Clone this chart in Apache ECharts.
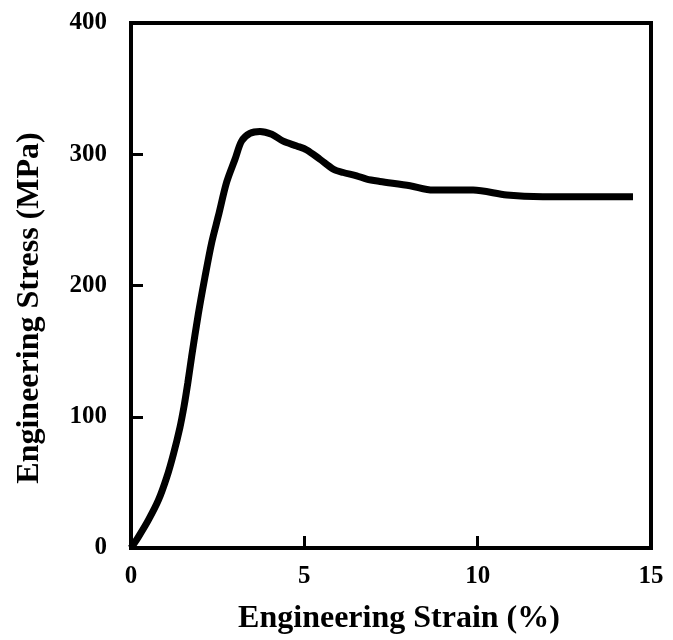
<!DOCTYPE html>
<html>
<head>
<meta charset="utf-8">
<script src="https://cdn.jsdelivr.net/npm/echarts@6/dist/echarts.min.js"></script>
<style>
html,body{margin:0;padding:0;background:#fff;}
#chart{width:673px;height:640px;}
</style>
</head>
<body>
<div id="chart"></div>
<script>
var strain = [0, 0.21, 0.50, 0.79, 1.03, 1.22, 1.41, 1.53, 1.64, 1.75, 1.94, 2.13, 2.33, 2.52, 2.76, 3.00, 3.19, 3.43, 3.72, 4.06, 4.39, 4.78, 5.07, 5.45, 5.84, 6.12, 6.51, 6.80, 7.18, 8.05, 8.71, 9.87, 10.84, 11.88, 13.33, 14.48];
var stress = [0, 8.3, 21.2, 36.4, 53.8, 71.2, 91.7, 108, 126, 146, 178, 206, 233, 253, 278.8, 296.2, 310, 315.9, 317.4, 315.2, 310, 306.3, 303.3, 296.2, 288.6, 286.1, 283.6, 281, 279.3, 276, 272.7, 272.7, 268.9, 267.7, 267.7, 267.7];
var xTicks = [0, 5, 10, 15];
var yTicks = [0, 100, 200, 300, 400];
var xTitle = 'Engineering Strain (%)';
var yTitle = 'Engineering Stress (MPa)';

var data = strain.map(function(x, i){ return [x, stress[i]]; });
var font = '"Liberation Serif", "Times New Roman", serif';
var chart = echarts.init(document.getElementById('chart'), null, {renderer: 'canvas'});
chart.setOption({
  animation: false,
  backgroundColor: '#fff',
  grid: {left: 131, right: 22, top: 23, bottom: 89, show: true, borderColor: '#000', borderWidth: 4, backgroundColor: 'transparent'},
  graphic: [{
    type: 'text', x: 30, y: 308, rotation: Math.PI / 2,
    style: {text: yTitle, fontFamily: font, fontWeight: 'bold', fontSize: 32, fill: '#000', align: 'center', verticalAlign: 'middle'}
  }],
  xAxis: {
    type: 'value', min: xTicks[0], max: xTicks[xTicks.length-1], interval: 5,
    name: xTitle, nameLocation: 'middle', nameGap: 55,
    nameTextStyle: {fontFamily: font, fontWeight: 'bold', fontSize: 32, color: '#000', padding: [0, 0, 0, 16]},
    axisLine: {show: true, lineStyle: {color: '#000', width: 4}},
    axisTick: {show: true, inside: true, length: 12, lineStyle: {color: '#000', width: 3}},
    axisLabel: {fontFamily: font, fontWeight: 'bold', fontSize: 25, color: '#000', margin: 16},
    splitLine: {show: false}
  },
  yAxis: {
    type: 'value', min: yTicks[0], max: yTicks[yTicks.length-1], interval: 100,
    axisLine: {show: true, lineStyle: {color: '#000', width: 4}},
    axisTick: {show: true, inside: true, length: 12, lineStyle: {color: '#000', width: 3}},
    axisLabel: {fontFamily: font, fontWeight: 'bold', fontSize: 25, color: '#000', margin: 24},
    splitLine: {show: false}
  },
  series: [{
    type: 'line', data: data, showSymbol: false, smooth: 0.3,
    lineStyle: {color: '#000', width: 7}
  }]
});
</script>
</body>
</html>
